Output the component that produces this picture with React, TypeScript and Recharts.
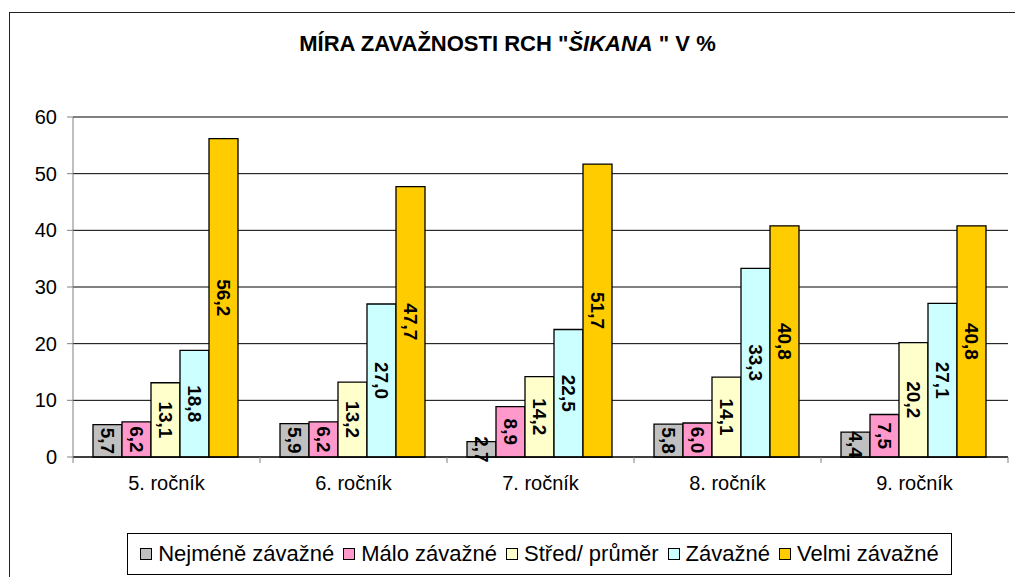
import { BarChart, Bar, XAxis, YAxis, CartesianGrid, LabelList } from "recharts";

const categories = ["5. ročník", "6. ročník", "7. ročník", "8. ročník", "9. ročník"];

const seriesNames = ["Nejméně závažné", "Málo závažné", "Střed/ průměr", "Závažné", "Velmi závažné"];
const seriesColors = ["#C0C0C0", "#FF99CC", "#FFFFCC", "#CCFFFF", "#FFCC00"];

const nejmene = [5.7, 5.9, 2.7, 5.8, 4.4];
const malo = [6.2, 6.2, 8.9, 6.0, 7.5];
const stred = [13.1, 13.2, 14.2, 14.1, 20.2];
const zavazne = [18.8, 27.0, 22.5, 33.3, 27.1];
const velmi = [56.2, 47.7, 51.7, 40.8, 40.8];

const yTicks = [0, 10, 20, 30, 40, 50, 60];

const seriesValues = [nejmene, malo, stred, zavazne, velmi];
const keys = ["s0", "s1", "s2", "s3", "s4"];

const data = categories.map((name, i) => {
  const row: Record<string, string | number> = { name };
  seriesValues.forEach((vals, s) => {
    row[keys[s]] = vals[i];
  });
  return row;
});

const FONT = '"Liberation Sans", Arial, sans-serif';

const fmt = (v: number) => v.toFixed(1).replace(".", ",");

const RotatedLabel = (props: any) => {
  const { x, y, width, height, value } = props;
  const cx = x + width / 2;
  const cy = y + height / 2;
  return (
    <text
      x={cx}
      y={cy}
      transform={`rotate(90 ${cx} ${cy})`}
      textAnchor="middle"
      dominantBaseline="central"
      fontFamily={FONT}
      fontWeight="bold"
      fontSize={19}
      fill="#000"
    >
      {fmt(Number(value))}
    </text>
  );
};

const CategoryTick = (props: any) => {
  const { x, y, payload, index, visibleTicksCount } = props;
  const half = payload && payload.offset ? payload.offset : 93.5;
  const last = index === visibleTicksCount - 1;
  return (
    <g>
      <line x1={x - half} y1={y} x2={x - half} y2={y + 6} stroke="#808080" />
      {last && <line x1={x + half} y1={y} x2={x + half} y2={y + 6} stroke="#808080" />}
      <text x={x} y={y + 33} textAnchor="middle" fontFamily={FONT} fontSize={20} fill="#000">
        {payload.value}
      </text>
    </g>
  );
};

export default function App() {
  return (
    <div
      style={{
        position: "absolute",
        left: 0,
        top: 0,
        width: 1015,
        height: 577,
        overflow: "hidden",
        background: "#fff",
        fontFamily: FONT,
      }}
    >
      <div
        style={{
          position: "absolute",
          left: 9,
          top: 12,
          width: 1100,
          height: 700,
          border: "1px solid #222",
        }}
      />
      <div
        style={{
          position: "absolute",
          left: 0,
          top: 31,
          width: 1015,
          textAlign: "center",
          fontSize: 22,
          fontWeight: "bold",
          color: "#000",
        }}
      >
        MÍRA ZAVAŽNOSTI RCH "<i>ŠIKANA</i> " V %
      </div>
      <div style={{ position: "absolute", left: 0, top: 0 }}>
        <BarChart
          width={1015}
          height={577}
          data={data}
          margin={{ top: 117, right: 7, bottom: 80, left: 0 }}
          barGap={0}
          barCategoryGap={20}
        >
          <CartesianGrid vertical={false} stroke="#000" />
          <XAxis
            dataKey="name"
            height={40}
            axisLine={{ stroke: "#000" }}
            tickLine={false}
            tickSize={0}
            tickMargin={0}
            tick={<CategoryTick />}
            interval={0}
          />
          <YAxis
            width={73}
            domain={[0, 60]}
            ticks={yTicks}
            axisLine={{ stroke: "#808080" }}
            tickLine={{ stroke: "#808080" }}
            tickSize={6}
            tickMargin={10}
            tick={{ fill: "#000", fontSize: 20, fontFamily: FONT }}
          />
          {keys.map((k, s) => (
            <Bar
              key={k}
              dataKey={k}
              name={seriesNames[s]}
              fill={seriesColors[s]}
              stroke="#000"
              strokeWidth={1.3}
              isAnimationActive={false}
            >
              <LabelList dataKey={k} content={<RotatedLabel />} />
            </Bar>
          ))}
        </BarChart>
      </div>
      <div
        style={{
          position: "absolute",
          left: 127,
          top: 533,
          width: 823,
          height: 40,
          border: "1px solid #000",
          display: "flex",
          alignItems: "center",
          justifyContent: "center",
          fontSize: 22,
          color: "#000",
          background: "#fff",
        }}
      >
        {seriesNames.map((n, s) => (
          <span key={n} style={{ display: "inline-flex", alignItems: "center", marginRight: s < 4 ? 9 : 0 }}>
            <span
              style={{
                display: "inline-block",
                width: 10,
                height: 10,
                background: seriesColors[s],
                border: "1px solid #000",
                marginRight: 6,
              }}
            />
            {n}
          </span>
        ))}
      </div>
    </div>
  );
}
